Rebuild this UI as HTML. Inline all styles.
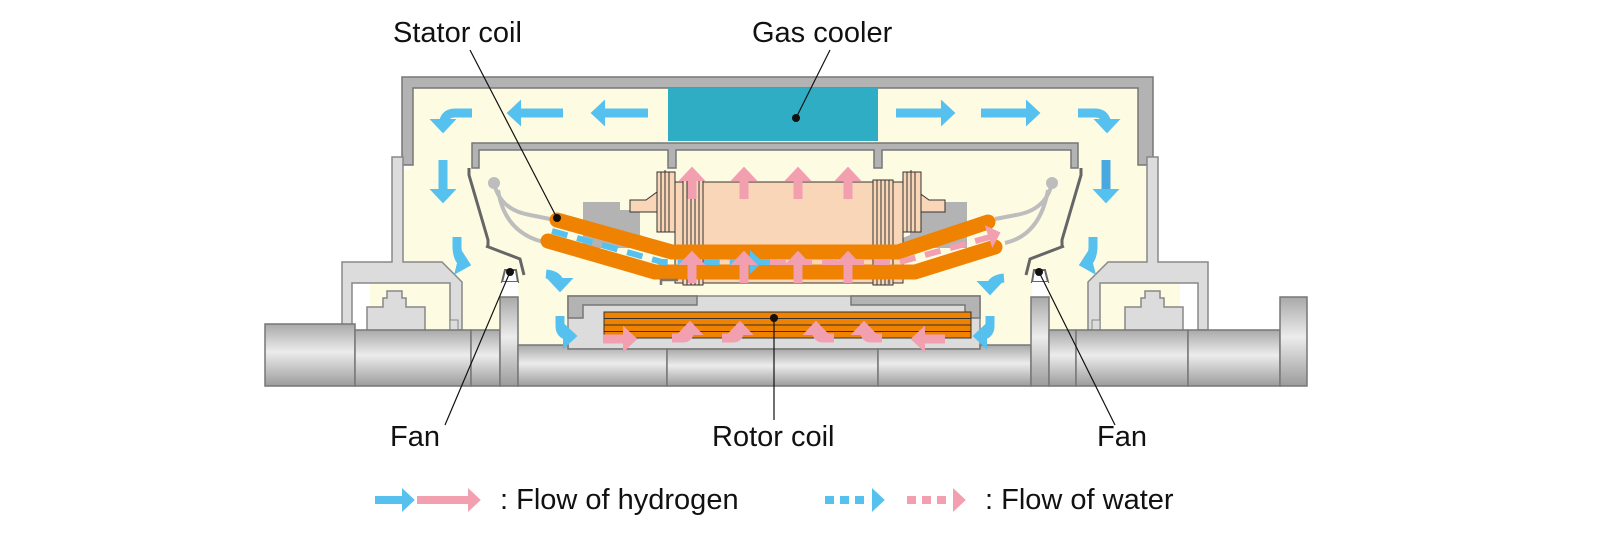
<!DOCTYPE html>
<html><head><meta charset="utf-8"><style>
html,body{margin:0;padding:0;background:#fff}
svg{display:block}
text{font-family:"Liberation Sans",Arial,sans-serif;font-size:29px;fill:#111}
</style></head><body>
<svg width="1600" height="554" viewBox="0 0 1600 554" xmlns="http://www.w3.org/2000/svg">
<defs>
<linearGradient id="sh" x1="0" y1="0" x2="0" y2="1">
<stop offset="0" stop-color="#a9a9a9"/><stop offset="0.45" stop-color="#ececec"/><stop offset="1" stop-color="#9c9c9c"/>
</linearGradient>
<marker id="bh" markerWidth="3" markerHeight="3" refX="1" refY="1.5" orient="auto"><path d="M0,0 L1.6,1.5 L0,3Z" fill="#56c1ee"/></marker>
<marker id="ph" markerWidth="3" markerHeight="3" refX="1" refY="1.5" orient="auto"><path d="M0,0 L1.6,1.5 L0,3Z" fill="#f29fb0"/></marker>
</defs>

<path d="M410,86 H1146 V170 H1150 V262 H1180 V345 H370 V262 H400 V170 H410Z" fill="#fefbe3"/>
<path d="M402,77 H1153 V165 H1138 V88 H413 V165 H402Z" fill="#b3b3b3" stroke="#777" stroke-width="1.5"/>
<path d="M392,157 H403 V262 H442 L462,282 V330 H450 V283 H352 V330 H342 V262 H392Z" fill="#dcdcdc" stroke="#888" stroke-width="1.5"/>
<path d="M1158,157 H1147 V262 H1108 L1088,282 V330 H1100 V283 H1198 V330 H1208 V262 H1158Z" fill="#dcdcdc" stroke="#888" stroke-width="1.5"/>
<path d="M367,307 H383 V298 H387 V291 H402 V298 H406 V307 H425 V332 H367Z" fill="#dcdcdc" stroke="#888" stroke-width="1.5"/>
<path d="M1125,307 H1141 V298 H1145 V291 H1160 V298 H1164 V307 H1183 V332 H1125Z" fill="#dcdcdc" stroke="#888" stroke-width="1.5"/>
<rect x="450" y="320" width="8" height="14" fill="#dcdcdc" stroke="#888"/>
<rect x="1092" y="320" width="8" height="14" fill="#dcdcdc" stroke="#888"/>
<rect x="668" y="88" width="210" height="53" fill="#2fadc5"/>
<path d="M472,168 V143 H1078 V168 H1071 V150 H882 V168 H874 V150 H676 V168 H668 V150 H479 V168Z" fill="#b3b3b3" stroke="#777" stroke-width="1.5"/>
<path d="M469,168 L469,175 L488,240 V248 M486,246 L520,259 L524,275" fill="none" stroke="#666" stroke-width="3"/>
<path d="M1081,168 L1081,175 L1062,240 V248 M1064,246 L1030,259 L1026,275" fill="none" stroke="#666" stroke-width="3"/>
<path d="M505,270 H516 L518,282 H502Z" fill="#fff" stroke="#666" stroke-width="2"/>
<path d="M1034,270 H1045 L1048,282 H1032Z" fill="#fff" stroke="#666" stroke-width="2"/>
<rect x="502" y="282" width="16" height="15" fill="#fff"/>
<rect x="1032" y="282" width="16" height="15" fill="#fff"/>
<path d="M494,183 Q500,210 530,215 L555,220 M498,190 Q505,235 548,243" fill="none" stroke="#bdbdbd" stroke-width="4"/>
<path d="M1052,183 Q1046,210 1016,215 L995,219 M1048,190 Q1040,235 1005,243" fill="none" stroke="#bdbdbd" stroke-width="4"/>
<circle cx="494" cy="183" r="6" fill="#bdbdbd"/><circle cx="1052" cy="183" r="6" fill="#bdbdbd"/>
<path d="M583,202 H620 V210 H640 V235 L672,248 H583Z" fill="#b3b3b3"/>
<path d="M967,202 H930 V210 H910 V235 L878,248 H967Z" fill="#b3b3b3"/>
<rect x="675" y="182" width="228" height="101" fill="#f9d6b7" stroke="#333" stroke-width="1"/>
<path d="M630,200 H646 L657,192 V212 H630Z M945,200 H929 L918,192 V212 H945Z" fill="#f9d6b7" stroke="#333" stroke-width="1"/>
<g fill="#f9d6b7" stroke="#333" stroke-width="1">
<rect x="657" y="172" width="18" height="60"/><rect x="683" y="180" width="20" height="105"/>
<rect x="903" y="172" width="18" height="60"/><rect x="873" y="180" width="20" height="105"/>
</g>
<g stroke="#333" stroke-width="1">
<path d="M661,172V232M665,170V232M669,172V232M687,180V285M691,180V285M695,180V285M699,180V285"/>
<path d="M907,172V232M911,170V232M915,172V232M877,180V285M881,180V285M885,180V285M889,180V285"/>
</g>
<g fill="none" stroke="#ef8200" stroke-width="15" stroke-linecap="round" stroke-linejoin="round">
<path d="M557,220 L672,252 H898 L988,222"/>
<path d="M548,241 L655,272 H915 L995,247"/>
</g>
<path d="M552,231 L662,262 H770" fill="none" stroke="#56c1ee" stroke-width="6" stroke-dasharray="16,10"/>
<path d="M770,262 H900 L990,237" fill="none" stroke="#f29fb0" stroke-width="6" stroke-dasharray="16,10"/>
<path d="M750,262 H758" stroke="#56c1ee" stroke-width="8" marker-end="url(#bh)"/>
<path d="M990,236 L996,234" stroke="#f29fb0" stroke-width="8" marker-end="url(#ph)"/>
<path d="M661,285 V280 H678 M889,280 V285" fill="none" stroke="#777" stroke-width="2.5"/>
<rect x="568" y="296" width="412" height="53" fill="#dcdcdc" stroke="#888" stroke-width="1.5"/>
<path d="M568,296 H697 V305 H583 V318 H568Z M980,296 H851 V305 H965 V318 H980Z" fill="#b3b3b3" stroke="#777" stroke-width="1.5"/>
<rect x="604" y="312" width="367" height="26" fill="#ef8200" stroke="#333" stroke-width="1"/>
<path d="M604,318.5H971M604,325H971M604,331.5H971" stroke="#333" stroke-width="1"/>
<g fill="url(#sh)" stroke="#777" stroke-width="1.5">
<rect x="265" y="324" width="90" height="62"/>
<rect x="355" y="330" width="116" height="56"/>
<rect x="471" y="330" width="29" height="56"/>
<rect x="500" y="297" width="18" height="89"/>
<path d="M518,345 H568 V349 H667 V386 H518Z"/>
<rect x="667" y="349" width="211" height="37"/>
<path d="M878,349 H980 V345 H1031 V386 H878Z"/>
<rect x="1031" y="297" width="18" height="89"/>
<rect x="1049" y="330" width="27" height="56"/>
<rect x="1076" y="330" width="112" height="56"/>
<rect x="1188" y="330" width="92" height="56"/>
<rect x="1280" y="297" width="27" height="89"/>
</g>
<g fill="none" stroke="#56c1ee" stroke-width="9">
<path d="M648,113 H596" marker-end="url(#bh)"/>
<path d="M563,113 H512" marker-end="url(#bh)"/>
<path d="M896,113 H950" marker-end="url(#bh)"/>
<path d="M981,113 H1035" marker-end="url(#bh)"/>
<path d="M472,113 H455 Q444,113 443,125 V128" marker-end="url(#bh)"/>
<path d="M1078,113 H1095 Q1106,113 1107,125 V128" marker-end="url(#bh)"/>
<path d="M443,160 V198" marker-end="url(#bh)"/>
<path d="M1106,160 V198" marker-end="url(#bh)" stroke="#4aa8e0"/>
<path d="M457,237 V248 Q458,262 466,264" marker-end="url(#bh)"/>
<path d="M1093,237 V248 Q1092,262 1084,264" marker-end="url(#bh)"/>
<path d="M546,274 Q558,275 560,284 V287" marker-end="url(#bh)"/>
<path d="M1004,278 Q992,279 990,288 V290" marker-end="url(#bh)"/>
<path d="M560,316 V326 Q560,336 572,336" marker-end="url(#bh)"/>
<path d="M990,316 V326 Q990,336 978,336" marker-end="url(#bh)"/>
</g>
<g fill="none" stroke="#f29fb0" stroke-width="9">
<path d="M692,199 V172" marker-end="url(#ph)"/>
<path d="M744,199 V172" marker-end="url(#ph)"/>
<path d="M798,199 V172" marker-end="url(#ph)"/>
<path d="M848,199 V172" marker-end="url(#ph)"/>
<path d="M692,283 V256" marker-end="url(#ph)"/>
<path d="M744,283 V256" marker-end="url(#ph)"/>
<path d="M798,283 V256" marker-end="url(#ph)"/>
<path d="M848,283 V256" marker-end="url(#ph)"/>
<path d="M603,339 H632" marker-end="url(#ph)"/>
<path d="M945,339 H916" marker-end="url(#ph)"/>
<path d="M672,338 H683 Q690,338 690,328 V326" marker-end="url(#ph)"/>
<path d="M722,338 H733 Q740,338 740,328 V326" marker-end="url(#ph)"/>
<path d="M834,338 H823 Q816,338 816,328 V326" marker-end="url(#ph)"/>
<path d="M882,338 H871 Q864,338 864,328 V326" marker-end="url(#ph)"/>
</g>
<g stroke="#111" stroke-width="1.2" fill="none">
<path d="M470,50 L557,218"/>
<path d="M830,50 L796,118"/>
<path d="M445,425 L510,272"/>
<path d="M1115,425 L1039,272"/>
<path d="M774,318 V420"/>
</g>
<g fill="#111">
<circle cx="557" cy="218" r="4"/><circle cx="796" cy="118" r="4"/>
<circle cx="510" cy="272" r="4"/><circle cx="1039" cy="272" r="4"/><circle cx="774" cy="318" r="4"/>
</g>
<text x="393" y="42">Stator coil</text>
<text x="752" y="42">Gas cooler</text>
<text x="390" y="446">Fan</text>
<text x="712" y="446">Rotor coil</text>
<text x="1097" y="446">Fan</text>
<path d="M375,500 H410" stroke="#56c1ee" stroke-width="8" marker-end="url(#bh)"/>
<path d="M417,500 H476" stroke="#f29fb0" stroke-width="8" marker-end="url(#ph)"/>
<text x="500" y="509">: Flow of hydrogen</text>
<path d="M825,500 H868" stroke="#56c1ee" stroke-width="8" stroke-dasharray="9,6"/>
<path d="M872,500 H880" stroke="#56c1ee" stroke-width="8" marker-end="url(#bh)"/>
<path d="M907,500 H950" stroke="#f29fb0" stroke-width="8" stroke-dasharray="9,6"/>
<path d="M954,500 H961" stroke="#f29fb0" stroke-width="8" marker-end="url(#ph)"/>
<text x="985" y="509">: Flow of water</text>
</svg>
</body></html>
